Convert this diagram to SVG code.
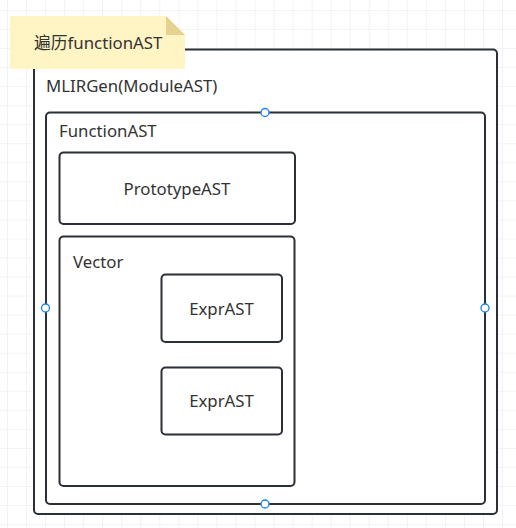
<svg xmlns="http://www.w3.org/2000/svg" width="516" height="528" viewBox="0 0 516 528">
<defs>
<pattern id="grid" x="7" y="10" width="19.04" height="19.04" patternUnits="userSpaceOnUse">
<path d="M0 0V19.04M0 0H19.04" fill="none" stroke="#efefef" stroke-width="1.5"/>
</pattern>
</defs>
<style>
.box{fill:#fff;stroke:#2b2f36;stroke-width:2}
.t{font-family:"Noto Sans","Noto Sans CJK SC",sans-serif;font-size:16.8px;fill:#333}
.h{fill:#fff;stroke:#1a82f0;stroke-width:1.3}
</style>
<rect width="516" height="528" fill="#fff"/>
<rect width="516" height="528" fill="url(#grid)"/>
<g id="module">
<rect class="box" x="34" y="49.5" width="463" height="464.5" rx="4"/>
<text class="t" x="46" y="92">MLIRGen(ModuleAST)</text>
</g>
<g id="function">
<rect class="box" x="46" y="112.5" width="439" height="391.5" rx="4"/>
<text class="t" x="59" y="137">FunctionAST</text>
</g>
<g id="prototype">
<rect class="box" x="59.5" y="152.5" width="235.5" height="71.5" rx="4"/>
<text class="t" x="177" y="194.5" text-anchor="middle">PrototypeAST</text>
</g>
<g id="vector">
<rect class="box" x="59.5" y="236.5" width="235" height="249.5" rx="4"/>
<text class="t" x="73" y="268">Vector</text>
</g>
<g id="expr1">
<rect class="box" x="161.5" y="274.5" width="120.5" height="67.5" rx="4"/>
<text class="t" x="221.5" y="314.5" text-anchor="middle">ExprAST</text>
</g>
<g id="expr2">
<rect class="box" x="161.5" y="367.5" width="120.5" height="67" rx="4"/>
<text class="t" x="221.5" y="406.5" text-anchor="middle">ExprAST</text>
</g>
<g id="note">
<path d="M10 16H166L185 35V69H10Z" fill="#fff4c3"/>
<path d="M166 16L185 35H166Z" fill="#e6d28e"/>
<text class="t" x="34" y="48.5">遍历functionAST</text>
</g>
<g id="connectors"></g>
<g id="handles">
<circle class="h" cx="265" cy="112.5" r="4"/>
<circle class="h" cx="45.5" cy="308" r="4"/>
<circle class="h" cx="485" cy="308" r="4"/>
<circle class="h" cx="265" cy="504" r="4"/>
</g>
</svg>
